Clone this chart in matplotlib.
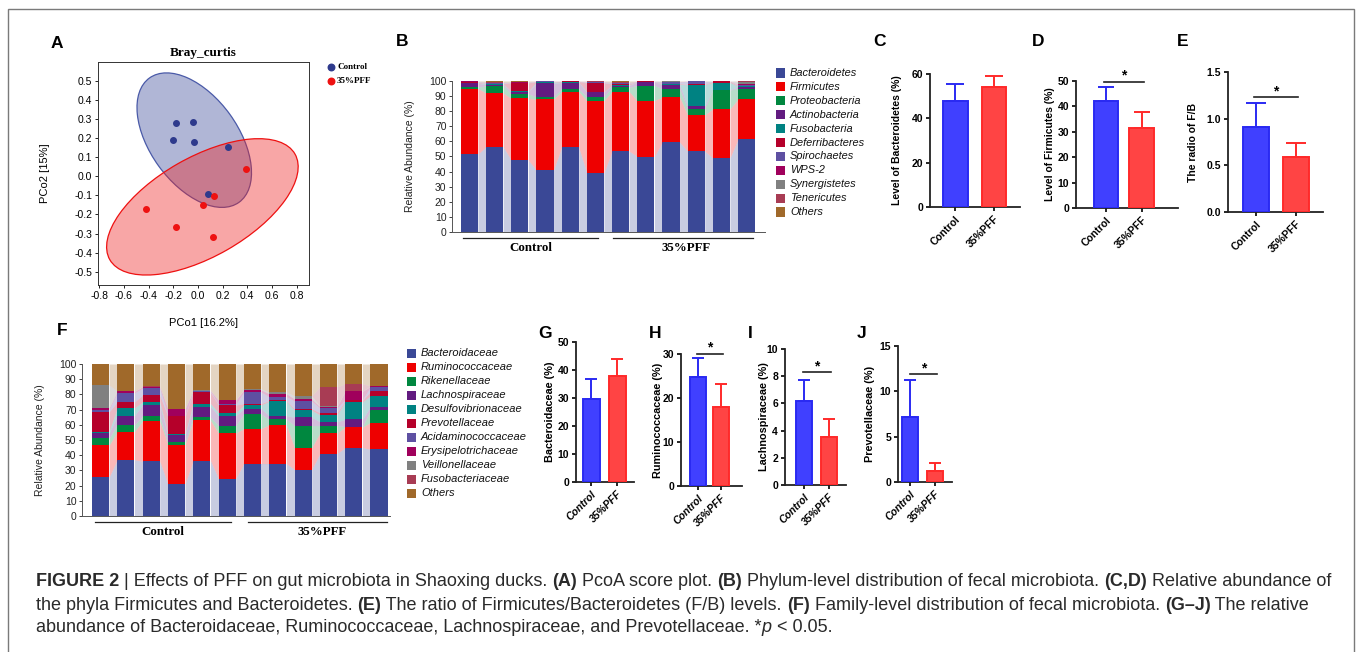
import numpy as np
import matplotlib
matplotlib.use('Agg')
import matplotlib.pyplot as plt
from matplotlib.patches import Circle, Rectangle
from matplotlib.transforms import Affine2D

plt.rcParams['font.family'] = ['Liberation Sans', 'DejaVu Sans']

W, H = 1357, 652

# ---- A: PCoA (Bray_curtis) ----
ctrl_x = [-0.18, -0.04, -0.20, -0.03, 0.24, 0.08]
ctrl_y = [0.28, 0.285, 0.19, 0.18, 0.155, -0.095]
pff_x = [0.39, 0.13, 0.04, -0.42, -0.18, 0.12]
pff_y = [0.04, -0.105, -0.15, -0.17, -0.265, -0.32]
# ellipse: centre, and the two semi-axis vectors (data units)
ctrl_ell = [(-0.03, 0.19), (0.363, -0.326), (-0.289, -0.135)]
pff_ell = [(0.036, -0.16), (0.75, 0.2775), (0.2, -0.2257)]

# ---- B: phylum level (12 samples) ----
phyla = ['Bacteroidetes', 'Firmicutes', 'Proteobacteria', 'Actinobacteria', 'Fusobacteria',
         'Deferribacteres', 'Spirochaetes', 'WPS-2', 'Synergistetes', 'Tenericutes', 'Others']
bacteroidetes = [51.5, 56.5, 47.5, 41, 56, 39, 53.5, 50, 59.5, 53.5, 49, 61.5]
firmicutes = [43.5, 35.5, 41, 47, 37, 48, 39.5, 37, 30, 24, 32.5, 26.5]
proteobacteria = [1.0, 4.8, 3, 1.5, 1.5, 2.5, 2.8, 10, 5.5, 4, 12.5, 7]
actinobacteria = [2.5, 0.8, 1.5, 9, 4.5, 3, 1.2, 2.5, 2.5, 2, 0.3, 1]
fusobacteria = [0.3, 0.4, 0.3, 0.8, 0.2, 0.3, 0.3, 0.1, 0.3, 14, 4.7, 0.5]
deferribacteres = [0.5, 0.3, 5.5, 0.2, 0.5, 6, 0.8, 0.1, 0.5, 0.2, 0.8, 0.5]
spirochaetes = [0.3, 0.5, 0.2, 0.2, 0.1, 0.5, 0.5, 0.1, 1.0, 2.1, 0.05, 0.5]
wps2 = [0.1, 0.1, 0.1, 0.1, 0.05, 0.1, 0.3, 0.05, 0.3, 0.05, 0.05, 0.5]
synergistetes = [0.1, 0.1, 0.2, 0.05, 0.05, 0.2, 0.1, 0.05, 0.1, 0.05, 0.05, 1.5]
tenericutes = [0.1, 0.1, 0.1, 0.05, 0.05, 0.2, 0.1, 0.05, 0.1, 0.05, 0.05, 0.3]
others_p = [0.1, 0.9, 0.6, 0.1, 0.05, 0.2, 0.9, 0.05, 0.2, 0.05, 0.0, 0.2]

# ---- F: family level ----
families = ['Bacteroidaceae', 'Ruminococcaceae', 'Rikenellaceae', 'Lachnospiraceae',
            'Desulfovibrionaceae', 'Prevotellaceae', 'Acidaminococcaceae',
            'Erysipelotrichaceae', 'Veillonellaceae', 'Fusobacteriaceae', 'Others']
bacteroidaceae = [25.5, 37, 36, 21, 36.5, 24.5, 34.5, 34.5, 30.5, 41, 45, 44]
ruminococcaceae = [21, 18.5, 26.5, 26, 26.5, 30, 23, 25.5, 14.5, 13.5, 13.5, 17.5]
rikenellaceae = [4.5, 4.5, 3, 1.5, 2, 5, 9.5, 3.5, 14.5, 5, 0.3, 8]
lachnospiraceae = [3.5, 6, 7.5, 4.5, 7, 6.5, 3.5, 2.5, 5.5, 2.5, 4.7, 2.5]
desulfovibrionaceae = [1.0, 5, 2, 1, 2, 2, 2.5, 9.5, 4.5, 4.5, 11.5, 7]
prevotellaceae = [13, 4, 4.5, 11.5, 7.5, 5, 1, 0.5, 1, 1.5, 1, 3]
acidaminococcaceae = [1.5, 6, 4.5, 0.5, 0.5, 0.5, 7.5, 2.5, 5, 3, 0.5, 3]
erysipelotrichaceae = [1, 1, 1, 4.5, 0.5, 2.5, 1.5, 2, 1.5, 1, 5.5, 0.3]
veillonellaceae = [15, 0.2, 0.1, 0.1, 0.1, 0.1, 0.5, 1, 2, 0.3, 0.2, 0.2]
fusobacteriaceae = [0.2, 0.1, 0.1, 0.1, 0.1, 0.1, 0.1, 0.1, 0.1, 12.7, 4.8, 0.2]
others_f = [13.8, 17.7, 14.8, 29.3, 17.3, 23.8, 16.4, 18.4, 20.9, 15, 13, 14.3]

stack_colors = ['#3a4896', '#ee0000', '#00873f', '#621b80', '#008282', '#b5002a',
                '#5e50a2', '#a0005c', '#808080', '#a83c54', '#a0692a']

# ---- C-J: group means and SD ----
groups = ['Control', '35%PFF']
bacteroidetes_mean = [48.0, 54.0]
bacteroidetes_sd = [7.7, 5.2]
firmicutes_mean = [42.3, 31.5]
firmicutes_sd = [5.2, 6.3]
fb_mean = [0.91, 0.59]
fb_sd = [0.26, 0.15]
bacteroidaceae_mean = [29.8, 38.0]
bacteroidaceae_sd = [7.0, 5.8]
rumino_mean = [24.8, 17.9]
rumino_sd = [4.2, 5.2]
lachno_mean = [6.2, 3.5]
lachno_sd = [1.55, 1.35]
prevo_mean = [7.2, 1.25]
prevo_sd = [4.0, 0.9]


def rect(l, t, r, b):
    return [l / W, 1 - b / H, (r - l) / W, (b - t) / H]


fig = plt.figure(figsize=(W / 100, H / 100), dpi=100)

# outer frame
fig.patches.append(Rectangle((8 / W, -0.01), (1354 - 8) / W, 1.01 - 9 / H, transform=fig.transFigure,
                             fill=False, edgecolor='#7a7a7a', linewidth=1.0))

# panel letters
for lab, x, y in [('A', 57, 43), ('B', 402, 42), ('C', 880, 42), ('D', 1038, 42), ('E', 1183, 42),
                  ('F', 62, 331), ('G', 545, 334), ('H', 655, 334), ('I', 750, 334), ('J', 862, 334)]:
    fig.text(x / W, 1 - y / H, lab, fontsize=12.5, weight='bold', ha='center', va='center')

# ---------------- A ----------------
ax = fig.add_axes(rect(98, 62, 309, 285))
for ell, fc, ec in [(ctrl_ell, '#3b4a9a', '#4a5aa8'), (pff_ell, '#ee2222', '#ee1111')]:
    (cx, cy), (ux, uy), (vx, vy) = ell
    tr = Affine2D(np.array([[ux, vx, cx], [uy, vy, cy], [0, 0, 1]])) + ax.transData
    ax.add_patch(Circle((0, 0), 1, transform=tr, facecolor=fc, alpha=0.4, edgecolor='none'))
    ax.add_patch(Circle((0, 0), 1, transform=tr, fill=False, edgecolor=ec, linewidth=0.9))
ax.scatter(ctrl_x, ctrl_y, s=16, color='#2e3a8c', zorder=3)
ax.scatter(pff_x, pff_y, s=16, color='#ee1111', zorder=3)
ax.set_xlim(-0.81, 0.90)
ax.set_ylim(-0.57, 0.60)
xt = np.round(np.arange(-0.8, 0.81, 0.2), 1) + 0.0
yt = np.round(np.arange(-0.5, 0.51, 0.1), 1) + 0.0
ax.set_xticks(xt)
ax.set_yticks(yt)
ax.set_xticklabels([f'{abs(v):.1f}' if abs(v) < 1e-9 else f'{v:.1f}' for v in xt])
ax.set_yticklabels([f'{abs(v):.1f}' if abs(v) < 1e-9 else f'{v:.1f}' for v in yt])
ax.tick_params(labelsize=7.5, length=2.5, width=0.6, pad=1.5)
for s in ax.spines.values():
    s.set_linewidth(0.7)
    s.set_color('#333333')
ax.set_title('Bray_curtis', fontsize=9.5, weight='bold', family='Liberation Serif', pad=4)
ax.set_ylabel('PCo2 [15%]', fontsize=8)
ax.yaxis.set_label_coords(-0.227, 0.5)
ax.set_xlabel('PCo1 [16.2%]', fontsize=8)
ax.xaxis.set_label_coords(0.5, -0.148)
for name, col, yy in [('Control', '#2e3a8c', 0.978), ('35%PFF', '#ee1111', 0.915)]:
    ax.scatter([1.104], [yy], s=22, color=col, transform=ax.transAxes, clip_on=False)
    ax.text(1.133, yy, name, transform=ax.transAxes, fontsize=6.5, weight='bold',
            family='Liberation Serif', va='center')


def stacked(ax, layers, width):
    n = len(layers[0])
    x = np.arange(n)
    bottom = np.zeros(n)
    for vals, c in zip(layers, stack_colors):
        vals = np.array(vals, dtype=float)
        top = bottom + vals
        ax.bar(x, vals, width, bottom=bottom, color=c, linewidth=0)
        for i in range(n - 1):
            ax.fill_between([x[i] + width / 2, x[i + 1] - width / 2], [bottom[i], bottom[i + 1]],
                            [top[i], top[i + 1]], color=c, alpha=0.28, linewidth=0)
        bottom = top
    ax.set_ylim(0, 100)
    ax.set_yticks(np.arange(0, 101, 10))
    ax.set_xticks([])
    ax.spines['top'].set_visible(False)
    ax.spines['right'].set_visible(False)
    for s in ('left', 'bottom'):
        ax.spines[s].set_linewidth(0.7)
        ax.spines[s].set_color('#555555')
    ax.tick_params(axis='y', labelsize=7.5, length=2.5, width=0.6, pad=1.5, colors='#222222')
    ax.set_ylabel('Relative Abundance (%)', fontsize=7.5, color='#222222')


def group_marks(ax, ctrl_span, pff_span, centers):
    for (a, b) in (ctrl_span, pff_span):
        ax.plot([a, b], [-4, -4], color='#222222', linewidth=0.9, clip_on=False)
    for name, cx in zip(groups, centers):
        ax.text(cx, -10.5, name, fontsize=9.3, weight='bold', family='Liberation Serif',
                ha='center', va='center', clip_on=False)


def legend_block(x_sq, y0, dy, names, size):
    for k, (nm, c) in enumerate(zip(names, stack_colors)):
        y = y0 + k * dy
        fig.patches.append(Rectangle(((x_sq) / W, 1 - (y + 4.5) / H), 9 / W, 9 / H,
                                     transform=fig.transFigure, facecolor=c, edgecolor='none'))
        fig.text((x_sq + 14) / W, 1 - y / H, nm, fontsize=size, style='italic', va='center',
                 color='#111111')


# ---------------- B ----------------
axb = fig.add_axes(rect(452, 81, 765, 232))
stacked(axb, [bacteroidetes, firmicutes, proteobacteria, actinobacteria, fusobacteria,
              deferribacteres, spirochaetes, wps2, synergistetes, tenericutes, others_p], 0.68)
axb.set_xlim(-0.69, 11.73)
axb.yaxis.set_label_coords(-0.118, 0.5)
group_marks(axb, (-0.26, 5.1), (5.69, 11.25), (2.44, 8.6))
legend_block(776, 73, 13.9, phyla, 7.9)

# ---------------- F ----------------
axf = fig.add_axes(rect(82, 364, 390, 516))
stacked(axf, [bacteroidaceae, ruminococcaceae, rikenellaceae, lachnospiraceae, desulfovibrionaceae,
              prevotellaceae, acidaminococcaceae, erysipelotrichaceae, veillonellaceae,
              fusobacteriaceae, others_f], 0.68)
axf.set_xlim(-0.73, 11.43)
axf.yaxis.set_label_coords(-0.12, 0.5)
group_marks(axf, (-0.22, 5.15), (5.82, 11.31), (2.47, 8.75))
legend_block(407, 353, 14.0, families, 8.0)


# ---------------- C-J ----------------
def bar_panel(r, mean, sd, ylim, ticks, fmt, xlim, width, ylabel, lab_x, italic, sig=None, cap=6,
              lsize=7.5):
    ax = fig.add_axes(rect(*r))
    x = np.arange(2)
    ax.bar(x, mean, width, color=['#4040ff', '#ff4444'], edgecolor=['#2a2af2', '#ff2a2a'],
           linewidth=1.4, zorder=3)
    for i, (fc) in enumerate(['#2a2af2', '#ff2a2a']):
        ax.errorbar([x[i]], [mean[i]], yerr=[[0], [sd[i]]], fmt='none', ecolor=fc,
                    elinewidth=1.4, capsize=cap, capthick=1.4, zorder=2)
    ax.set_xlim(*xlim)
    ax.set_ylim(*ylim)
    ax.set_yticks(ticks)
    ax.set_yticklabels([fmt.format(t) for t in ticks])
    ax.set_xticks(x)
    ax.set_xticklabels(groups, rotation=45, ha='right', rotation_mode='anchor',
                       style='italic' if italic else 'normal')
    ax.tick_params(labelsize=7.5, length=3, width=1.2, pad=2)
    for t in ax.get_xticklabels() + ax.get_yticklabels():
        t.set_fontweight('bold')
    ax.spines['top'].set_visible(False)
    ax.spines['right'].set_visible(False)
    for s in ('left', 'bottom'):
        ax.spines[s].set_linewidth(1.3)
        ax.spines[s].set_color('#222222')
    ax.set_ylabel(ylabel, fontsize=lsize, weight='bold')
    ax.yaxis.set_label_coords((lab_x - r[0]) / (r[2] - r[0]), 0.5)
    if sig is not None:
        x0, x1, ys = sig
        ax.plot([x0, x1], [ys, ys], color='#222222', linewidth=1.2, clip_on=False)
        ax.annotate('*', xy=((x0 + x1) / 2, ys), xytext=(0, 1.5), textcoords='offset points',
                    fontsize=10, weight='bold', ha='center', va='baseline', annotation_clip=False)
    return ax


bar_panel((930, 74, 1020, 207), bacteroidetes_mean, bacteroidetes_sd, (0, 60), [0, 20, 40, 60],
          '{:d}', (-0.66, 1.68), 0.64, 'Level of Bacteroidetes (%)', 902, False, cap=6.5)
bar_panel((1076, 81, 1178, 208), firmicutes_mean, firmicutes_sd, (0, 50), list(range(0, 51, 10)),
          '{:d}', (-0.85, 2.03), 0.68, 'Level of Firmicutes (%)', 1055, False,
          sig=(-0.06, 1.07, 49.6), cap=6)
bar_panel((1228, 72, 1323, 212), fb_mean, fb_sd, (0, 1.5), [0.0, 0.5, 1.0, 1.5],
          '{:.1f}', (-0.7, 1.68), 0.65, 'The radio of F/B', 1198, False,
          sig=(-0.05, 1.05, 1.23), cap=7)
bar_panel((576, 342, 634, 482), bacteroidaceae_mean, bacteroidaceae_sd, (0, 50),
          list(range(0, 51, 10)), '{:d}', (-0.58, 1.65), 0.65, 'Bacteroidaceae (%)', 555, True,
          cap=4, lsize=7.8)
bar_panel((681, 354, 742, 486), rumino_mean, rumino_sd, (0, 30), [0, 10, 20, 30],
          '{:d}', (-0.74, 1.91), 0.7, 'Ruminococcaceae (%)', 663, True,
          sig=(-0.04, 1.09, 30.0), cap=4, lsize=7.8)
bar_panel((785, 349, 846, 485), lachno_mean, lachno_sd, (0, 10), list(range(0, 11, 2)),
          '{:d}', (-0.76, 1.68), 0.64, 'Lachnospiraceae (%)', 769, True,
          sig=(-0.04, 1.08, 8.3), cap=4, lsize=7.8)
bar_panel((898, 346, 952, 482), prevo_mean, prevo_sd, (0, 15), [0, 5, 10, 15],
          '{:d}', (-0.48, 1.68), 0.64, 'Prevotellaceae (%)', 875, True,
          sig=(0.0, 1.08, 11.9), cap=4, lsize=7.8)

# ---------------- caption ----------------
caption = [
    [('FIGURE 2', 'bold', 'normal'), (' | Effects of PFF on gut microbiota in Shaoxing ducks. ', 'normal', 'normal'),
     ('(A)', 'bold', 'normal'), (' PcoA score plot. ', 'normal', 'normal'), ('(B)', 'bold', 'normal'),
     (' Phylum-level distribution of fecal microbiota. ', 'normal', 'normal'), ('(C,D)', 'bold', 'normal'),
     (' Relative abundance of', 'normal', 'normal')],
    [('the phyla Firmicutes and Bacteroidetes. ', 'normal', 'normal'), ('(E)', 'bold', 'normal'),
     (' The ratio of Firmicutes/Bacteroidetes (F/B) levels. ', 'normal', 'normal'), ('(F)', 'bold', 'normal'),
     (' Family-level distribution of fecal microbiota. ', 'normal', 'normal'), ('(G\u2013J)', 'bold', 'normal'),
     (' The relative', 'normal', 'normal')],
    [('abundance of Bacteroidaceae, Ruminococcaceae, Lachnospiraceae, and Prevotellaceae. *', 'normal', 'normal'),
     ('p', 'normal', 'italic'), (' < 0.05.', 'normal', 'normal')],
]
renderer = fig.canvas.get_renderer()
for line, y in zip(caption, [582, 605, 628]):
    x = 36
    for txt, wt, st in line:
        t = fig.text(x / W, 1 - y / H, txt, fontsize=13.0, weight=wt, style=st, va='center',
                     color='#2a2a2a')
        x += t.get_window_extent(renderer=renderer).width

fig.savefig('out.png', dpi=100)
